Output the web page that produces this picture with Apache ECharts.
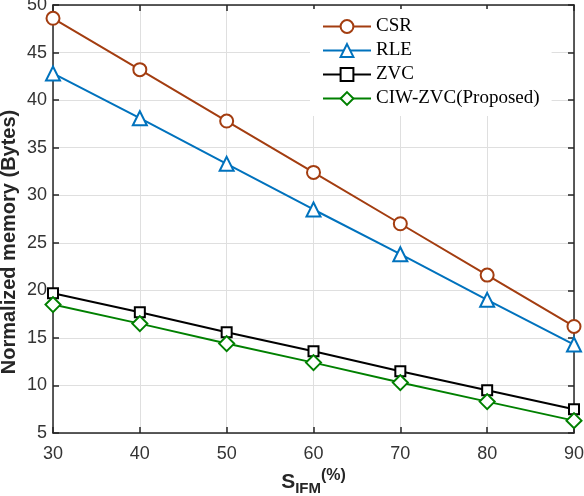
<!DOCTYPE html>
<html>
<head>
<meta charset="utf-8">
<script src="https://cdn.jsdelivr.net/npm/echarts@6/dist/echarts.min.js"></script>
<style>
html, body { margin: 0; padding: 0; background: #fff; }
#main { width: 584px; height: 496px; }
</style>
</head>
<body>
<div id="main"></div>
<script>
// data
var sparsity = [30, 40, 50, 60, 70, 80, 90];
var csr = [48.6, 43.2, 37.8, 32.4, 27.0, 21.6, 16.2];
var rle = [42.8, 38.1, 33.3, 28.5, 23.8, 19.0, 14.3];
var zvc = [19.7, 17.7, 15.6, 13.6, 11.5, 9.5, 7.5];
var ciwZvc = [18.5, 16.5, 14.4, 12.4, 10.3, 8.3, 6.3];
var seriesNames = ['CSR', 'RLE', 'ZVC', 'CIW-ZVC(Proposed)'];

function pairs(ys) {
	var out = [];
	for (var i = 0; i < sparsity.length; i++) {
		out.push([sparsity[i], ys[i]]);
	}
	return out;
}

var axisColor = '#262626';
var labelColor = '#333333';
var sansFont = 'Liberation Sans, Arial, sans-serif';

function makeSeries(name, ys, color, symbol, size) {
	return {
		name : name,
		type : 'line',
		data : pairs(ys),
		symbol : symbol,
		symbolSize : size,
		showSymbol : true,
		lineStyle : { color : color, width : 2 },
		itemStyle : { color : color, borderColor : color, borderWidth : 2 },
		emphasis : { disabled : true },
		animation : false
	};
}

var myChart = echarts.init(document.getElementById('main'));

var option = {
	backgroundColor : '#fff',
	animation : false,
	grid : { left : 53, right : 10, top : 5, bottom : 63, containLabel : false, outerBoundsMode : 'none' },
	legend : {
		data : seriesNames,
		orient : 'vertical',
		left : 310,
		top : 9,
		padding : [8, 12, 8, 12],
		backgroundColor : '#fff',
		itemWidth : 48,
		itemHeight : 16,
		itemGap : 5,
		textStyle : {
			fontFamily : 'Liberation Serif, Times New Roman, serif',
			fontSize : 19,
			color : '#000',
			lineHeight : 19
		}
	},
	xAxis : [ {
		type : 'value',
		min : 30,
		max : 90,
		interval : 10,
		name : '{s|S}{sub|IFM}{sup|(%)}',
		nameLocation : 'middle',
		nameGap : 34,
		nameTextStyle : {
			rich : {
				s : { fontFamily : sansFont, fontWeight : 'bold', fontSize : 21, color : axisColor, verticalAlign : 'middle', lineHeight : 28 },
				sub : { fontFamily : sansFont, fontWeight : 'bold', fontSize : 15, color : axisColor, verticalAlign : 'bottom', lineHeight : 28 },
				sup : { fontFamily : sansFont, fontWeight : 'bold', fontSize : 16, color : axisColor, verticalAlign : 'top', lineHeight : 28 }
			}
		},
		axisLine : { show : true, lineStyle : { color : axisColor, width : 1.5 } },
		axisTick : { show : true, inside : true, length : 6, lineStyle : { color : axisColor, width : 1.5 } },
		axisLabel : { color : labelColor, fontFamily : sansFont, fontSize : 18, margin : 12 },
		splitLine : { show : true, lineStyle : { color : '#dfdfdf', width : 1 } }
	}, {
		type : 'value',
		position : 'top',
		min : 30,
		max : 90,
		interval : 10,
		axisLine : { show : true, lineStyle : { color : axisColor, width : 1.5 } },
		axisTick : { show : true, inside : true, length : 6, lineStyle : { color : axisColor, width : 1.5 } },
		axisLabel : { show : false },
		splitLine : { show : false }
	} ],
	yAxis : [ {
		type : 'value',
		min : 5,
		max : 50,
		interval : 5,
		name : 'Normalized memory (Bytes)',
		nameLocation : 'middle',
		nameGap : 34,
		nameMoveOverlap : false,
		nameTextStyle : { fontFamily : sansFont, fontWeight : 'bold', fontSize : 20, color : axisColor, padding : [0, 46, 0, 0] },
		axisLine : { show : true, lineStyle : { color : axisColor, width : 1.5 } },
		axisTick : { show : true, inside : true, length : 6, lineStyle : { color : axisColor, width : 1.5 } },
		axisLabel : { color : labelColor, fontFamily : sansFont, fontSize : 18, margin : 6 },
		splitLine : { show : true, lineStyle : { color : '#dfdfdf', width : 1 } }
	}, {
		type : 'value',
		position : 'right',
		min : 5,
		max : 50,
		interval : 5,
		axisLine : { show : true, lineStyle : { color : axisColor, width : 1.5 } },
		axisTick : { show : true, inside : true, length : 6, lineStyle : { color : axisColor, width : 1.5 } },
		axisLabel : { show : false },
		splitLine : { show : false }
	} ],
	series : [
		makeSeries(seriesNames[0], csr, '#a33d10', 'emptyCircle', 13),
		makeSeries(seriesNames[1], rle, '#0072bd', 'emptyTriangle', 14),
		makeSeries(seriesNames[2], zvc, '#000000', 'emptyRect', 10),
		makeSeries(seriesNames[3], ciwZvc, '#008000', 'emptyDiamond', 15)
	]
};

myChart.setOption(option);
</script>
</body>
</html>
